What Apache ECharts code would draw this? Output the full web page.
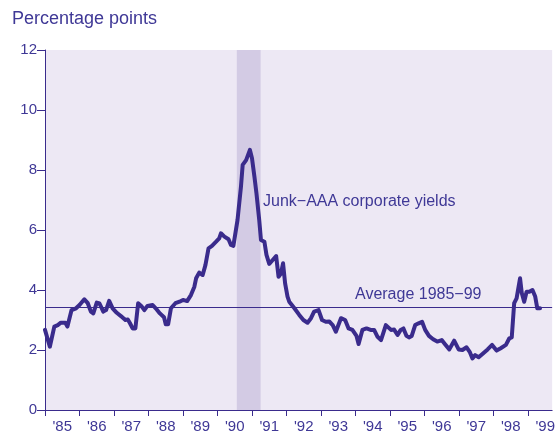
<!DOCTYPE html>
<html>
<head>
<meta charset="utf-8">
<script src="https://cdn.jsdelivr.net/npm/echarts@6/dist/echarts.min.js"></script>
<style>
  html, body { margin: 0; padding: 0; background: #fff; }
  #chart { width: 558px; height: 434px; }
</style>
</head>
<body>
<div id="chart"></div>
<script>
// decimal years, with the junk-AAA spread (percentage points)
const months = [
  1985.00, 1985.14, 1985.27, 1985.37, 1985.46, 1985.59, 1985.65, 1985.77, 1985.90,
  1986.00, 1986.14, 1986.24, 1986.33, 1986.40, 1986.50, 1986.58, 1986.69, 1986.77, 1986.86, 1986.96,
  1987.08, 1987.20, 1987.33, 1987.40, 1987.46, 1987.54, 1987.62, 1987.70, 1987.79, 1987.88, 1987.97,
  1988.12, 1988.21, 1988.33, 1988.45, 1988.50, 1988.57, 1988.65, 1988.78, 1988.90,
  1989.00, 1989.12, 1989.23, 1989.33, 1989.38, 1989.47, 1989.57, 1989.65, 1989.74, 1989.84, 1989.96,
  1990.05, 1990.10, 1990.20, 1990.32, 1990.39, 1990.46, 1990.58, 1990.68, 1990.73, 1990.83, 1990.88, 1990.94,
  1991.00, 1991.07, 1991.13, 1991.21, 1991.26, 1991.36, 1991.42, 1991.50, 1991.60, 1991.70, 1991.77, 1991.84, 1991.90, 1991.96,
  1992.03, 1992.08, 1992.23, 1992.37, 1992.49, 1992.61, 1992.71, 1992.80, 1992.93,
  1993.03, 1993.14, 1993.24, 1993.34, 1993.43, 1993.58, 1993.70, 1993.80, 1993.91,
  1994.03, 1994.09, 1994.20, 1994.32, 1994.44, 1994.54, 1994.64, 1994.74, 1994.88,
  1995.03, 1995.12, 1995.22, 1995.31, 1995.39, 1995.48, 1995.55, 1995.63, 1995.73, 1995.83, 1995.93,
  1996.02, 1996.13, 1996.25, 1996.37, 1996.50, 1996.59, 1996.72, 1996.86, 1996.99,
  1997.10, 1997.22, 1997.31, 1997.39, 1997.47, 1997.57, 1997.68, 1997.83, 1997.96,
  1998.09, 1998.21, 1998.36, 1998.46, 1998.53, 1998.60, 1998.67, 1998.77, 1998.82, 1998.89, 1998.96,
  1999.04, 1999.13, 1999.21, 1999.27, 1999.35
];
const spread = [
  2.67, 2.11, 2.78, 2.83, 2.91, 2.91, 2.78, 3.33, 3.39,
  3.50, 3.69, 3.56, 3.28, 3.22, 3.58, 3.55, 3.28, 3.33, 3.64, 3.39,
  3.24, 3.13, 3.00, 3.02, 2.90, 2.72, 2.72, 3.56, 3.47, 3.33, 3.47,
  3.50, 3.39, 3.22, 3.09, 2.86, 2.86, 3.39, 3.56, 3.61,
  3.67, 3.63, 3.83, 4.11, 4.39, 4.58, 4.50, 4.83, 5.39, 5.47, 5.61,
  5.72, 5.89, 5.78, 5.69, 5.50, 5.47, 6.33, 7.44, 8.17, 8.33, 8.31, 8.67,
  8.39, 7.78, 7.22, 6.33, 5.67, 5.61, 5.17, 4.87, 5.00, 5.13, 4.44, 4.55, 4.89, 4.22,
  3.78, 3.61, 3.39, 3.17, 3.00, 2.91, 3.06, 3.28, 3.33,
  3.00, 2.94, 2.95, 2.83, 2.61, 3.06, 3.00, 2.72, 2.67,
  2.47, 2.20, 2.67, 2.72, 2.67, 2.67, 2.44, 2.33, 2.83,
  2.67, 2.68, 2.50, 2.67, 2.72, 2.47, 2.42, 2.47, 2.83, 2.89, 2.94,
  2.67, 2.47, 2.36, 2.28, 2.33, 2.20, 2.02, 2.31, 2.02,
  2.00, 2.09, 1.94, 1.72, 1.83, 1.76, 1.87, 2.02, 2.17,
  1.98, 2.06, 2.17, 2.39, 2.42, 3.56, 3.72, 4.39, 3.90, 3.61, 3.94,
  3.94, 4.00, 3.78, 3.39, 3.39
];
const yearTicks = [1985, 1986, 1987, 1988, 1989, 1990, 1991, 1992, 1993, 1994, 1995, 1996, 1997, 1998, 1999];
const recession = [1990.56, 1991.25];
const average = 3.44;

const ink = '#3a2b8c';
const txt = '#3f3896';
const font = 'Liberation Sans, Arial, sans-serif';

const chart = echarts.init(document.getElementById('chart'));
chart.setOption({
  animation: false,
  grid: {
    left: 45, right: 5, top: 50, bottom: 24,
    show: true, backgroundColor: '#ede8f4', borderWidth: 0
  },
  xAxis: {
    type: 'value',
    min: 1985, max: 1999.7,
    axisLine: { show: true, lineStyle: { color: ink, width: 1 } },
    axisTick: { show: true, length: 6, lineStyle: { color: ink }, customValues: yearTicks },
    axisLabel: {
      customValues: yearTicks.map(y => y + 0.5),
      formatter: v => "'" + String(Math.floor(v)).slice(2),
      color: txt, fontSize: 15, fontFamily: font, margin: 9
    },
    splitLine: { show: false }
  },
  yAxis: {
    type: 'value',
    min: 0, max: 12, interval: 2,
    axisLine: { show: true, lineStyle: { color: ink, width: 1 } },
    axisTick: { show: true, length: 8, lineStyle: { color: ink } },
    axisLabel: { color: txt, fontSize: 15, fontFamily: font, margin: 8 },
    splitLine: { show: false }
  },
  graphic: [
    { type: 'text', left: 12, top: 10, style: { text: 'Percentage points', fill: txt, font: '18px ' + font } },
    { type: 'text', left: 263, top: 194, style: { text: 'Junk\u2212AAA corporate yields', fill: txt, font: '16px ' + font } },
    { type: 'text', left: 355, top: 287, style: { text: 'Average 1985\u221299', fill: txt, font: '16px ' + font } }
  ],
  series: [{
    type: 'line',
    data: months.map((m, i) => [m, spread[i]]),
    showSymbol: false,
    lineStyle: { color: ink, width: 4, join: 'round', cap: 'round' },
    markArea: {
      silent: true,
      itemStyle: { color: '#d3cbe4' },
      data: [[{ xAxis: recession[0] }, { xAxis: recession[1] }]]
    },
    markLine: {
      silent: true,
      symbol: 'none',
      label: { show: false },
      lineStyle: { color: ink, width: 1, type: 'solid' },
      data: [{ yAxis: average }]
    }
  }]
});
</script>
</body>
</html>
